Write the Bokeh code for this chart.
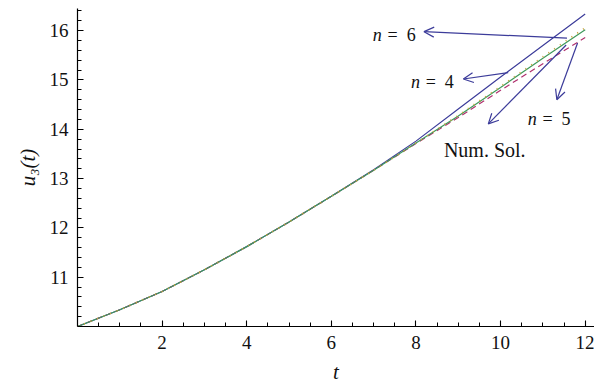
from bokeh.plotting import figure
from bokeh.models import FixedTicker, Arrow, OpenHead, Range1d
from bokeh.core.properties import value
from bokeh.embed import file_html
from bokeh.resources import INLINE

# ---- data ----
t = [0, 1, 2, 3, 4, 5, 6, 7, 8, 9, 10, 11, 12]
num_sol = [10.00, 10.34, 10.71, 11.15, 11.62, 12.12, 12.64, 13.17, 13.72, 14.27, 14.85, 15.44, 16.02]
n6 = [10.00, 10.34, 10.71, 11.15, 11.62, 12.12, 12.64, 13.18, 13.76, 14.41, 15.06, 15.70, 16.34]
n4 = [10.00, 10.34, 10.71, 11.15, 11.62, 12.12, 12.64, 13.17, 13.71, 14.24, 14.79, 15.33, 15.86]
n5 = [10.00, 10.34, 10.71, 11.15, 11.62, 12.12, 12.64, 13.17, 13.72, 14.28, 14.87, 15.47, 16.06]

x_ticks = [2, 4, 6, 8, 10, 12]
x_minor = [0.5 * i for i in range(1, 25)]
y_ticks = [11, 12, 13, 14, 15, 16]
y_minor = [10 + 0.2 * i for i in range(1, 33)]

# annotation arrows: (tail_t, tail_u, head_t, head_u)
arrows = [
    (11.57, 15.85, 8.19, 15.98),   # n = 6
    (10.18, 15.15, 9.12, 15.02),   # n = 4
    (11.82, 15.75, 11.33, 14.60),  # n = 5
    (11.55, 15.71, 9.71, 14.11),   # Num. Sol.
]
# labels "n = k": (t of 'n', t of '= k', u baseline, text after n)
n_labels = [
    (6.98, 7.33, 15.91, "=\u20026"),
    (7.88, 8.23, 14.95, "=\u20024"),
    (10.64, 10.99, 14.21, "=\u20025"),
]
num_label = (8.66, 13.59, "Num. Sol.")

BLUE = "#3c3c9a"
GREEN = "#3f9a5c"
RED = "#b0306e"
ORANGE = "#c9a23c"
FONT = "Liberation Serif"

p = figure(width=594, height=386, output_backend="svg", toolbar_location=None,
           x_range=Range1d(0, 12.22), y_range=Range1d(10, 16.45),
           min_border_left=77, min_border_right=0, min_border_top=8, min_border_bottom=60)
p.outline_line_color = None
p.grid.visible = False
p.background_fill_color = "white"
p.border_fill_color = "white"

for ax in (p.xaxis[0], p.yaxis[0]):
    ax.axis_line_color = "black"
    ax.axis_line_width = 1.2
    ax.major_tick_in = 6
    ax.major_tick_out = 0
    ax.minor_tick_in = 4
    ax.minor_tick_out = 0
    ax.major_tick_line_color = "black"
    ax.minor_tick_line_color = "black"
    ax.major_tick_line_width = 1.1
    ax.minor_tick_line_width = 1
    ax.major_label_text_font = FONT
    ax.major_label_text_font_size = "19px"
    ax.major_label_text_color = "#111111"
    ax.axis_label_text_font = FONT
    ax.axis_label_text_font_size = "21px"
    ax.axis_label_text_font_style = "italic"
    ax.axis_label_text_color = "#111111"

p.xaxis.ticker = FixedTicker(ticks=x_ticks, minor_ticks=x_minor)
p.yaxis.ticker = FixedTicker(ticks=y_ticks, minor_ticks=y_minor)
p.xaxis.major_label_standoff = 9
p.yaxis.major_label_standoff = 9
p.xaxis.axis_label = "t"
p.yaxis.axis_label = "u₃(t)"
p.xaxis.axis_label_standoff = 8
p.yaxis.axis_label_standoff = 7

p.line(t, n6, line_color=BLUE, line_width=1.2)
p.line(t, n4, line_color=RED, line_width=1.2, line_dash="6 4")
p.line(t, num_sol, line_color=GREEN, line_width=1.2)
p.line(t, n5, line_color=ORANGE, line_width=1.8, line_dash="1 6")

for (xs, ys, xe, ye) in arrows:
    p.add_layout(Arrow(x_start=xs, y_start=ys, x_end=xe, y_end=ye,
                       line_color=BLUE, line_width=1.2,
                       end=OpenHead(size=10, line_color=BLUE, line_width=1.2)))

for (tn, teq, u, txt) in n_labels:
    p.text(x=[tn], y=[u], text=["n"], text_font=value(FONT), text_font_style="italic",
           text_font_size="18px", text_baseline="alphabetic", text_align="left", text_color="#111111")
    p.text(x=[teq], y=[u], text=[txt], text_font=value(FONT),
           text_font_size="18px", text_baseline="alphabetic", text_align="left", text_color="#111111")

p.text(x=[num_label[0]], y=[num_label[1]], text=[num_label[2]], text_font=value(FONT),
       text_font_size="20px", text_baseline="alphabetic", text_align="left", text_color="#111111")

open("out.html", "w").write(file_html(p, INLINE))
